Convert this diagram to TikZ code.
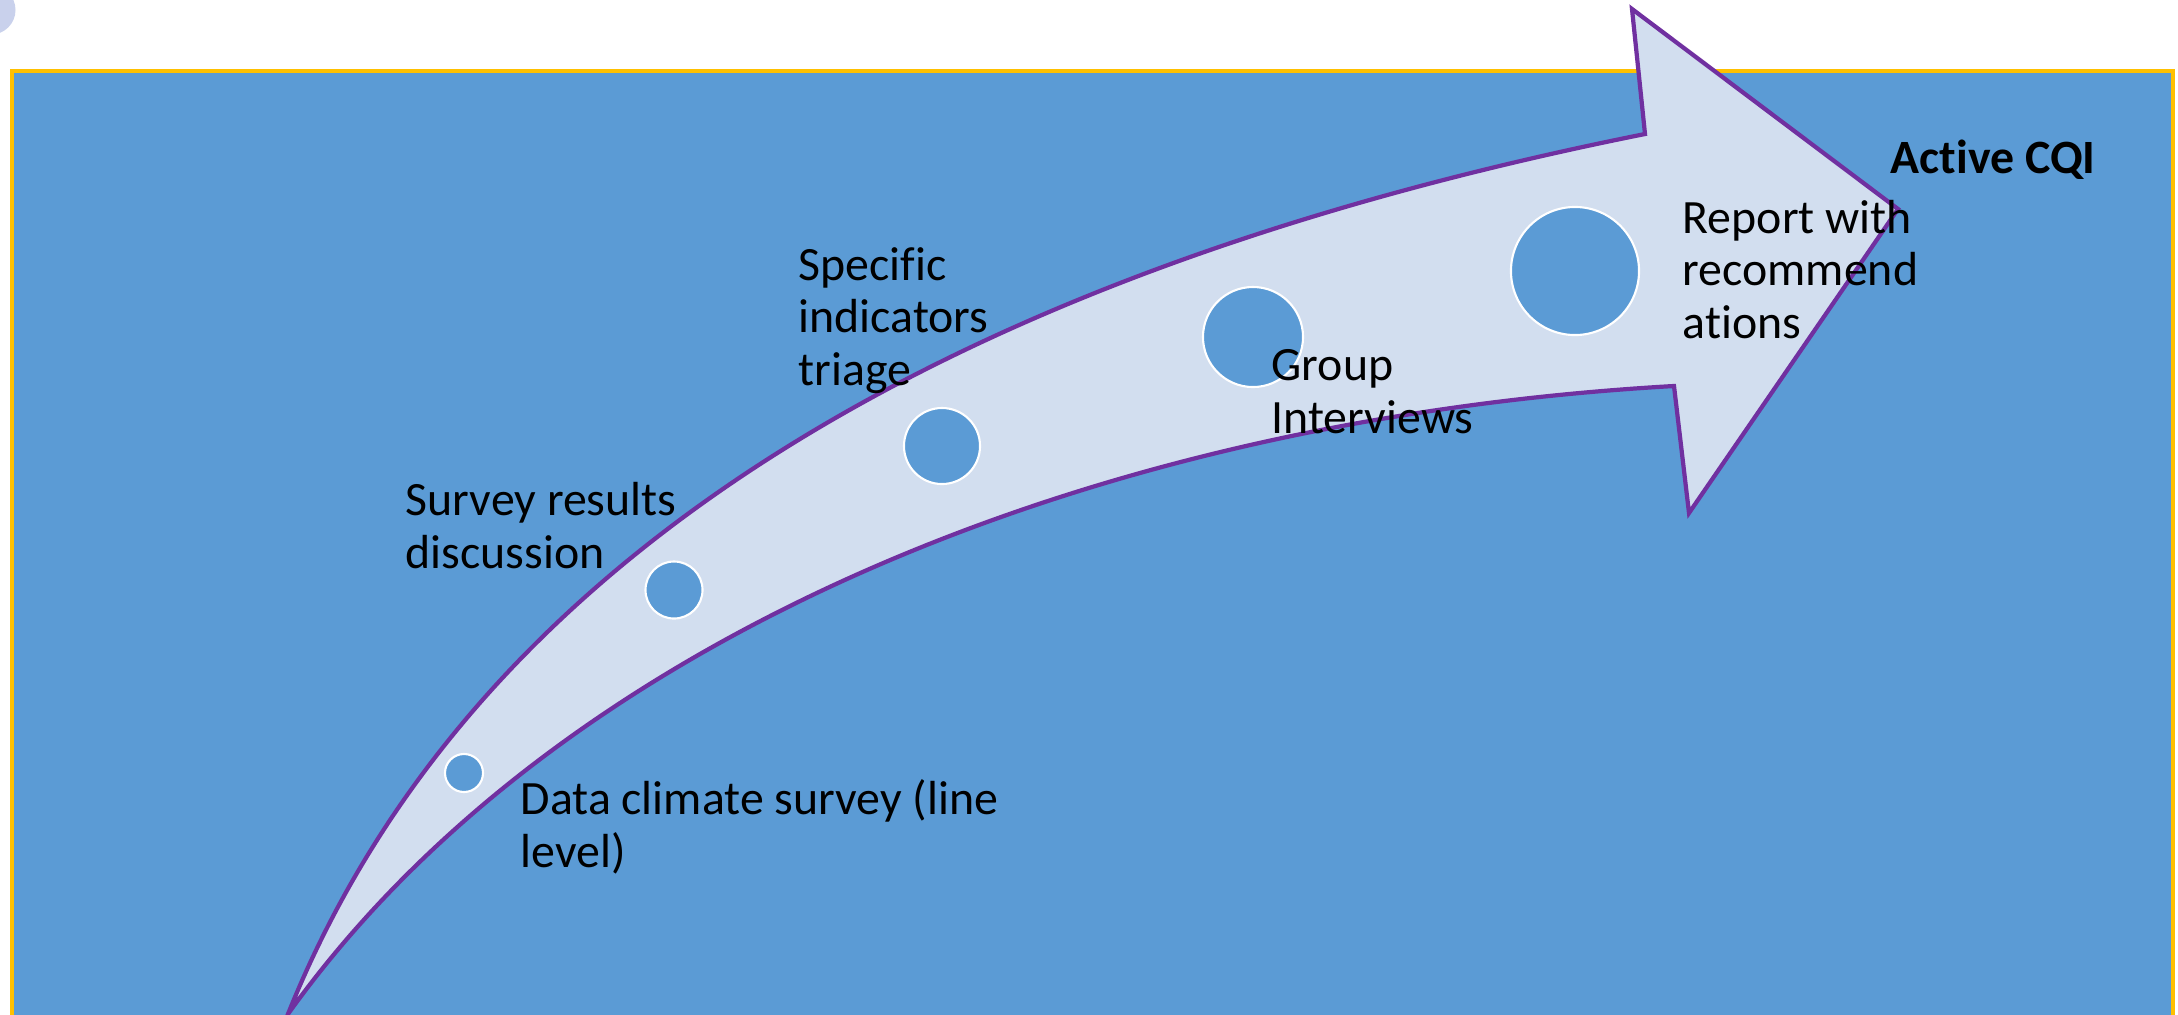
\documentclass[tikz,border=0pt]{standalone}
\usepackage{fontspec}
\setmainfont[Ligatures=NoCommon]{Carlito}
\usepackage{tikz}

\definecolor{bgblue}{HTML}{5B9BD5}
\definecolor{frame}{HTML}{FFC000}
\definecolor{band}{HTML}{D2DEEF}
\definecolor{edge}{HTML}{7030A0}
\definecolor{haze}{HTML}{C9D1EC}

\tikzset{
  stop/.style={circle, draw=white, line width=0.6pt, fill=bgblue, inner sep=0pt, outer sep=0pt},
  stagetext/.style={anchor=base west, inner sep=0pt, align=left, font=\fontsize{13.6}{14.8}\selectfont}
}

\begin{document}
\begin{tikzpicture}[x=0.01cm, y=-0.01cm]
    \clip (0,0) rectangle (2178,1014);
    \fill[white] (0,0) rectangle (2178,1014);
    \fill[haze] (-9,10) circle (0.245cm);
    \draw[frame, line width=1.1pt, fill=bgblue] (12,71) rectangle (2173,1040);
    \draw[edge, line width=1.2pt, fill=band] (288,1014) .. controls (470,560) and (945,274) .. (1645,134)
        -- (1632,9) -- (1898,209) -- (1689,513) -- (1674,386)
        .. controls (1074,420) and (549,649) .. (288,1014) -- cycle;
    \node[stop, minimum size=0.38cm] (s1) at (464,773) {};
    \node[stop, minimum size=0.57cm] (s2) at (674,590) {};
    \node[stop, minimum size=0.76cm] (s3) at (942,446) {};
    \node[stop, minimum size=1.00cm] (s4) at (1253,337) {};
    \node[stop, minimum size=1.28cm] (s5) at (1575,271) {};
    % multi-line nodes sit on the baseline of their last line
    \node[stagetext] (t1) at (520,867) {Data climate survey (line\\level)};
    \node[stagetext] (t2) at (405,568) {Survey results\\discussion};
    \node[stagetext] (t3) at (798,385) {Specific\\indicators\\triage};
    \node[stagetext] (t4) at (1271,433) {Group\\Interviews};
    \node[stagetext] (t5) at (1682,338) {Report with\\recommend\\ations};
    \node[stagetext, font=\bfseries\fontsize{13.6}{14.8}\selectfont] (goal) at (1890,173) {Active CQI};
\end{tikzpicture}
\end{document}
